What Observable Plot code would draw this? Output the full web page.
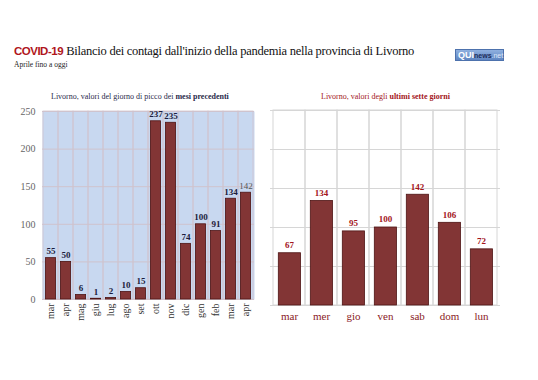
<!DOCTYPE html>
<html><head><meta charset="utf-8">
<script src="https://cdn.jsdelivr.net/npm/d3@7"></script>
<script src="https://cdn.jsdelivr.net/npm/@observablehq/plot@0.6"></script>
<style>
body{margin:0;background:#fff;}
#page{position:relative;width:538px;height:380px;overflow:hidden;font-family:"Liberation Serif",serif;}
.abs{position:absolute;white-space:nowrap;}
</style></head>
<body><div id="page">
<div class="abs" id="title" style="left:14px;top:44px;font-size:12.5px;color:#111;">
<span style="font-family:'Liberation Sans',sans-serif;font-weight:bold;color:#b0161c;font-size:11.5px;letter-spacing:-0.5px">COVID-19</span> <span id="tt" style="letter-spacing:-0.25px">Bilancio dei contagi dall'inizio della pandemia nella provincia di Livorno</span></div>
<div class="abs" style="left:14px;top:60px;font-size:7.5px;color:#222;">Aprile fino a oggi</div>
<div class="abs" style="left:455px;top:49px;width:47px;height:10px;background:linear-gradient(#8fb0df,#5f86c2);border:1px solid #4d72ad;font-family:'Liberation Sans',sans-serif;font-size:9px;line-height:10px;">
<span style="color:#fff;font-weight:bold;margin-left:2px">QUI</span><span style="color:#1c2d5a;font-size:7px;font-weight:bold">news</span><span style="color:#dfe8f8;font-size:7px">.net</span></div>
<div class="abs" style="left:51px;top:92px;font-size:8px;color:#2a2a4a;">Livorno, valori del giorno di picco dei <b>mesi precedenti</b></div>
<div class="abs" style="left:321px;top:92px;font-size:8px;color:#a3151b;">Livorno, valori degli <b>ultimi sette giorni</b></div>
<div class="abs" id="left" style="left:0px;top:100px;"></div>
<div class="abs" id="right" style="left:258px;top:100px;"></div>
</div>
<script>
const months = ["mar","apr","mag","giu","lug","ago","set","ott","nov","dic","gen","feb","mar","apr"];
const peakValues = [55,50,6,1,2,10,15,237,235,74,100,91,134,142];
const days = ["mar","mer","gio","ven","sab","dom","lun"];
const dayValues = [67,134,95,100,142,106,72];
const yTicks = [0,50,100,150,200,250];

const leftData = months.map((m,i)=>({i, m, v: peakValues[i]}));
const rightData = days.map((d,i)=>({i, d, v: dayValues[i]}));
const barFill = "#823535", barStroke = "#4e1414";

const left = Plot.plot({
  width: 270, height: 240,
  marginLeft: 42, marginRight: 16, marginTop: 11, marginBottom: 41,
  style: {fontFamily: "Liberation Serif", background: "transparent", overflow: "visible"},
  x: {type: "band", domain: d3.range(months.length), padding: 0, label: null},
  y: {domain: [0,250], label: null},
  marks: [
    Plot.frame({fill: "#c8d8f0", stroke: null}),
    Plot.ruleY(yTicks, {stroke: "#cfc3cd", strokeWidth: 1}),
    Plot.barY(leftData, {x: "i", y1: 0, y2: 250, fill: "none", stroke: "#cfc3cd", strokeWidth: 0.8}),
    Plot.barY(leftData, {x: "i", y: "v", fill: barFill, stroke: barStroke, strokeWidth: 0.8, insetLeft: 2.4, insetRight: 2.4}),
    Plot.text(leftData.filter(d=>d.i<13), {x: "i", y: "v", text: d=>String(d.v), dy: -7, fontWeight: "bold", fill: "#1c1c3c", fontSize: 9}),
    Plot.text(leftData.filter(d=>d.i===13), {x: "i", y: "v", text: d=>String(d.v), dy: -7, fill: "#555", fontSize: 9}),
    Plot.axisY({ticks: yTicks, tickSize: 0, tickPadding: 7, fontSize: 10, color: "#666", label: null}),
    Plot.axisX({tickRotate: -90, tickSize: 0, tickPadding: 4, tickFormat: i=>months[i], fontSize: 10, color: "#333", label: null})
  ]
});
document.getElementById("left").appendChild(left);

const right = Plot.plot({
  width: 270, height: 240,
  marginLeft: 12, marginRight: 28, marginTop: 10, marginBottom: 35,
  style: {fontFamily: "Liberation Serif", background: "transparent", overflow: "visible"},
  x: {type: "band", domain: d3.range(days.length), padding: 0, label: null},
  y: {domain: [0,250], axis: null},
  marks: [
    Plot.ruleY(yTicks, {stroke: "#d6d6d6", strokeWidth: 1}),
    Plot.barY(rightData, {x: "i", y1: 0, y2: 250, fill: "none", stroke: "#d6d6d6", strokeWidth: 1}),
    Plot.barY(rightData, {x: "i", y: "v", fill: barFill, stroke: barStroke, strokeWidth: 0.8, insetLeft: 5.3, insetRight: 4.5}),
    Plot.text(rightData, {x: "i", y: "v", text: d=>String(d.v), dy: -8, fontWeight: "bold", fill: "#a3151b", fontSize: 9}),
    Plot.axisX({tickSize: 0, tickPadding: 7, tickFormat: i=>days[i], fontSize: 11, color: "#8a1a1e", label: null})
  ]
});
document.getElementById("right").appendChild(right);
</script>
</body></html>
